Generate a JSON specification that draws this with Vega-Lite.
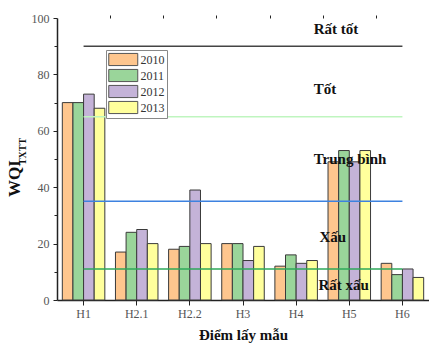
{
  "$schema": "https://vega.github.io/schema/vega-lite/v6.json",
  "width": 372,
  "height": 282,
  "autosize": "none",
  "padding": {"left": 57, "top": 18, "right": 0, "bottom": 47},
  "background": "white",
  "config": {"view": {"stroke": null}, "font": "Liberation Serif"},
  "datasets": {
    "bars": [
      {"site": "H1", "year": "2010", "wqi": 70}, {"site": "H1", "year": "2011", "wqi": 70}, {"site": "H1", "year": "2012", "wqi": 73}, {"site": "H1", "year": "2013", "wqi": 68},
      {"site": "H2.1", "year": "2010", "wqi": 17}, {"site": "H2.1", "year": "2011", "wqi": 24}, {"site": "H2.1", "year": "2012", "wqi": 25}, {"site": "H2.1", "year": "2013", "wqi": 20},
      {"site": "H2.2", "year": "2010", "wqi": 18}, {"site": "H2.2", "year": "2011", "wqi": 19}, {"site": "H2.2", "year": "2012", "wqi": 39}, {"site": "H2.2", "year": "2013", "wqi": 20},
      {"site": "H3", "year": "2010", "wqi": 20}, {"site": "H3", "year": "2011", "wqi": 20}, {"site": "H3", "year": "2012", "wqi": 14}, {"site": "H3", "year": "2013", "wqi": 19},
      {"site": "H4", "year": "2010", "wqi": 12}, {"site": "H4", "year": "2011", "wqi": 16}, {"site": "H4", "year": "2012", "wqi": 13}, {"site": "H4", "year": "2013", "wqi": 14},
      {"site": "H5", "year": "2010", "wqi": 49}, {"site": "H5", "year": "2011", "wqi": 53}, {"site": "H5", "year": "2012", "wqi": 49}, {"site": "H5", "year": "2013", "wqi": 53},
      {"site": "H6", "year": "2010", "wqi": 13}, {"site": "H6", "year": "2011", "wqi": 9}, {"site": "H6", "year": "2012", "wqi": 11}, {"site": "H6", "year": "2013", "wqi": 8}
    ],
    "lines": [
      {"level": "Rất tốt", "y": 90, "start": 1, "end": 7},
      {"level": "Tốt", "y": 65, "start": 1, "end": 7},
      {"level": "Trung bình", "y": 35, "start": 1, "end": 7},
      {"level": "Xấu", "y": 11, "start": 1, "end": 7}
    ],
    "labels": [
      {"label": "Rất tốt", "xpos": 5.33, "y": 96},
      {"label": "Tốt", "xpos": 5.33, "y": 75},
      {"label": "Trung bình", "xpos": 5.33, "y": 50},
      {"label": "Xấu", "xpos": 5.44, "y": 22.3},
      {"label": "Rất xấu", "xpos": 5.42, "y": 5.3}
    ]
  },
  "layer": [
    {
      "data": {"name": "bars"},
      "mark": {"type": "bar", "stroke": "#3a3a3a", "strokeWidth": 1},
      "encoding": {
        "x": {
          "field": "site", "type": "nominal",
          "sort": ["H1", "H2.1", "H2.2", "H3", "H4", "H5", "H6"],
          "scale": {"paddingInner": 0.2, "paddingOuter": 0.1},
          "axis": {
            "title": "Điểm lấy mẫu", "titleFont": "Liberation Serif", "titleFontSize": 15, "titleFontWeight": "bold", "titleColor": "#111", "titlePadding": 8,
            "labelAngle": 0, "labelFont": "Liberation Serif", "labelFontSize": 12, "labelColor": "#555", "labelPadding": 3,
            "tickSize": 5, "tickColor": "#222", "domainColor": "#222", "domainWidth": 1.5, "grid": false
          }
        },
        "xOffset": {"field": "year", "type": "nominal", "scale": {"paddingInner": 0, "paddingOuter": 0}},
        "y": {
          "field": "wqi", "type": "quantitative",
          "scale": {"domain": [0, 100]},
          "axis": {
            "values": [0, 20, 40, 60, 80, 100], "grid": false,
            "title": "WQI", "titleFont": "Liberation Serif", "titleFontSize": 17, "titleFontWeight": "bold", "titleColor": "#111",
            "titleX": -43, "titleY": 160, "titleAlign": "center", "titleBaseline": "middle", "titleAngle": -90,
            "labelFont": "Liberation Serif", "labelFontSize": 12, "labelColor": "#555", "labelPadding": 4,
            "tickSize": 4, "tickColor": "#222", "domainColor": "#222", "domainWidth": 1.5
          }
        },
        "fill": {
          "field": "year", "type": "nominal",
          "scale": {"domain": ["2010", "2011", "2012", "2013"], "range": ["#FEC68E", "#9AD59A", "#C4B3D8", "#FFFF9C"]},
          "legend": {
            "title": null, "orient": "none", "legendX": 49, "legendY": 32,
            "strokeColor": "#888", "fillColor": "white", "padding": 2,
            "symbolType": "M-1,-0.9L3.3,-0.9L3.3,0.9L-1,0.9Z", "symbolSize": 182,
            "symbolStrokeColor": "#555", "symbolStrokeWidth": 1, "symbolOpacity": 1,
            "labelFont": "Liberation Serif", "labelFontSize": 12, "labelColor": "#333", "labelOffset": 17.5, "rowPadding": -2.6
          }
        }
      }
    },
    {
      "data": {"name": "lines"},
      "mark": {"type": "rule", "strokeWidth": 1.5},
      "encoding": {
        "x": {
          "field": "start", "type": "quantitative",
          "scale": {"domain": [0.5, 7.5], "nice": false, "zero": false},
          "axis": {"values": [1.5, 2.5, 3.5, 4.5, 5.5, 6.5], "labels": false, "tickSize": 3, "tickColor": "#222", "domain": false, "title": null, "grid": false}
        },
        "x2": {"field": "end"},
        "y": {
          "field": "y", "type": "quantitative",
          "axis": {"orient": "left", "values": [10, 30, 50, 70, 90], "labels": false, "tickSize": 3, "tickColor": "#222", "domain": false, "grid": false,
                   "title": "TXTT", "titleFont": "Liberation Serif", "titleFontSize": 10, "titleFontWeight": "bold", "titleColor": "#111",
                   "titleX": -35, "titleY": 133, "titleAlign": "center", "titleBaseline": "middle", "titleAngle": -90}
        },
        "color": {
          "field": "level", "type": "nominal",
          "scale": {"domain": ["Rất tốt", "Tốt", "Trung bình", "Xấu"], "range": ["#444444", "#BFF5BF", "#3D82E0", "#2EA85A"]},
          "legend": null
        }
      }
    },
    {
      "data": {"name": "labels"},
      "mark": {"type": "text", "align": "left", "baseline": "middle", "font": "Liberation Serif", "fontSize": 15, "fontWeight": "bold", "color": "#111"},
      "encoding": {
        "x": {"field": "xpos", "type": "quantitative", "scale": {"domain": [0.5, 7.5], "nice": false, "zero": false}, "axis": null},
        "y": {"field": "y", "type": "quantitative", "axis": null},
        "text": {"field": "label"}
      }
    }
  ],
  "resolve": {"scale": {"x": "independent", "color": "independent"}, "axis": {"y": "independent", "x": "independent"}}
}
